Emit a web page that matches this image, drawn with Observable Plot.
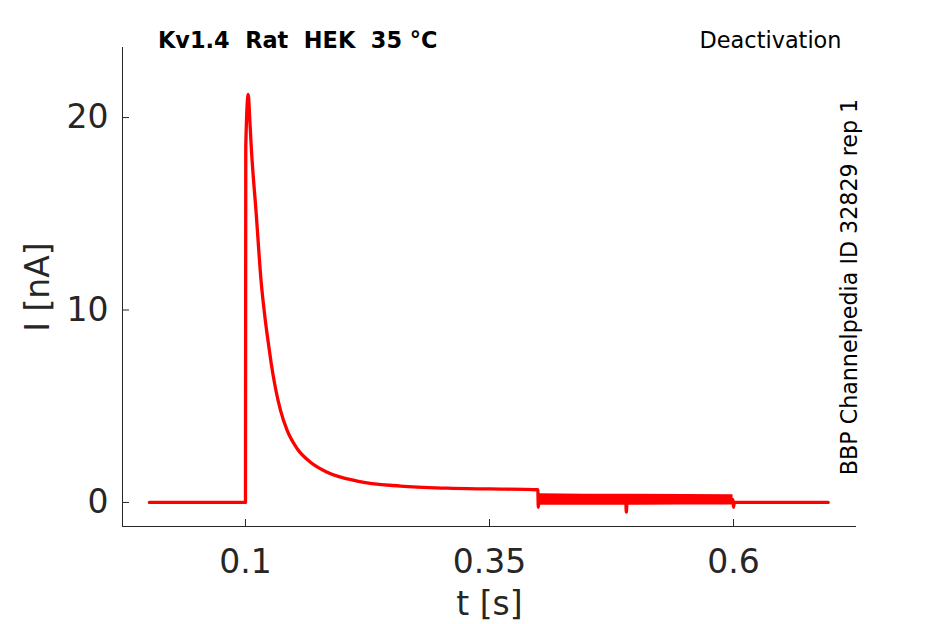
<!DOCTYPE html>
<html>
<head>
<meta charset="utf-8">
<script src="https://cdn.jsdelivr.net/npm/d3@7"></script>
<script src="https://cdn.jsdelivr.net/npm/@observablehq/plot@0.6"></script>
<style>
  html, body { margin: 0; padding: 0; background: white; }
</style>
</head>
<body>
<div id="chart"></div>
<script>
// Current trace (time in s, current in nA)
const traceTime = [0.0015, 0.0995, 0.1, 0.1003, 0.1028, 0.1045, 0.106, 0.111, 0.116, 0.12, 0.124, 0.1263, 0.1307, 0.1359, 0.1427, 0.153, 0.1666, 0.1837, 0.2144, 0.2588, 0.3067, 0.35, 0.3995, 0.4, 0.4008, 0.45, 0.4895, 0.4902, 0.491, 0.55, 0.5995, 0.6, 0.6008, 0.65, 0.697];
const traceCurrent = [0, 0, 0, 18.5, 21.2, 19.8, 18.4, 15.0, 11.5, 9.6, 8.07, 7.25, 5.95, 4.78, 3.74, 2.79, 2.09, 1.57, 1.11, 0.85, 0.74, 0.70, 0.66, -0.25, 0.15, 0.15, 0.15, -0.5, 0.15, 0.15, 0.15, -0.25, 0.0, 0.0, 0.0];

// Noise envelope between 0.4 s and 0.6 s
const bandTime = [0.4008, 0.45, 0.5, 0.55, 0.5995];
const bandHigh = [0.45, 0.43, 0.42, 0.41, 0.40];
const bandLow = [-0.15, -0.14, -0.14, -0.13, -0.13];

const xTicks = [0.1, 0.35, 0.6];
const yTicks = [0, 10, 20];
const xDomain = [-0.026, 0.726];
const yDomain = [-1.25, 23.64];

const titleText = "Kv1.4\u00a0\u00a0Rat\u00a0\u00a0HEK\u00a0\u00a035\u00a0°C";
const protocolText = "Deactivation";
const sideText = "BBP Channelpedia ID 32829 rep 1";
const xLabel = "t [s]";
const yLabel = "I [nA]";

const trace = traceTime.map((t, k) => ({t, i: traceCurrent[k]}));
const band = bandTime.map((t, k) => ({t, lo: bandLow[k], hi: bandHigh[k]}));

const axisColor = "#262626";

const chart = Plot.plot({
  width: 945,
  height: 624,
  marginLeft: 122,
  marginRight: 89,
  marginTop: 47,
  marginBottom: 98,
  x: {domain: xDomain},
  y: {domain: yDomain},
  style: {fontFamily: "DejaVu Sans", background: "white", overflow: "visible"},
  marks: [
    Plot.areaY(band, {x: "t", y1: "lo", y2: "hi", fill: "#ff0000"}),
    Plot.line(trace, {x: "t", y: "i", stroke: "#ff0000", strokeWidth: 3.3, curve: "monotone-x"}),
    Plot.ruleY([yDomain[0]], {stroke: axisColor, strokeWidth: 1}),
    Plot.ruleX([xDomain[0]], {stroke: axisColor, strokeWidth: 1}),
    Plot.ruleX(xTicks, {x: d => d, y1: yDomain[0], y2: yDomain[0], insetBottom: 7, stroke: axisColor}),
    Plot.ruleY(yTicks, {y: d => d, x1: xDomain[0], x2: xDomain[0], insetLeft: 7, stroke: axisColor}),
    Plot.axisX({ticks: xTicks, tickSize: 0, tickPadding: 23, tickFormat: d => String(d), fontSize: 33, fill: axisColor, label: null}),
    Plot.axisY({ticks: yTicks, tickSize: 0, tickPadding: 14, tickFormat: d => String(d), fontSize: 33, fill: axisColor, label: null}),
    Plot.text([xLabel], {text: d => d, frameAnchor: "bottom", lineAnchor: "middle", textAnchor: "middle", dy: 78, fontSize: 33, fill: axisColor}),
    Plot.text([yLabel], {text: d => d, frameAnchor: "left", lineAnchor: "middle", textAnchor: "middle", dx: -84, rotate: -90, fontSize: 33, fill: axisColor}),
    Plot.text([titleText], {text: d => d, frameAnchor: "top-left", lineAnchor: "middle", textAnchor: "start", dx: 35.5, dy: -7, fontSize: 22.4, fontWeight: "bold", fill: "black"}),
    Plot.text([protocolText], {text: d => d, frameAnchor: "top-right", lineAnchor: "middle", textAnchor: "end", dx: -15, dy: -7, fontSize: 22.4, fill: "black"}),
    Plot.text([sideText], {text: d => d, frameAnchor: "right", lineAnchor: "middle", textAnchor: "middle", rotate: -90, dx: -7, fontSize: 22.2, fill: "black"})
  ]
});

document.getElementById("chart").appendChild(chart);
</script>
</body>
</html>
